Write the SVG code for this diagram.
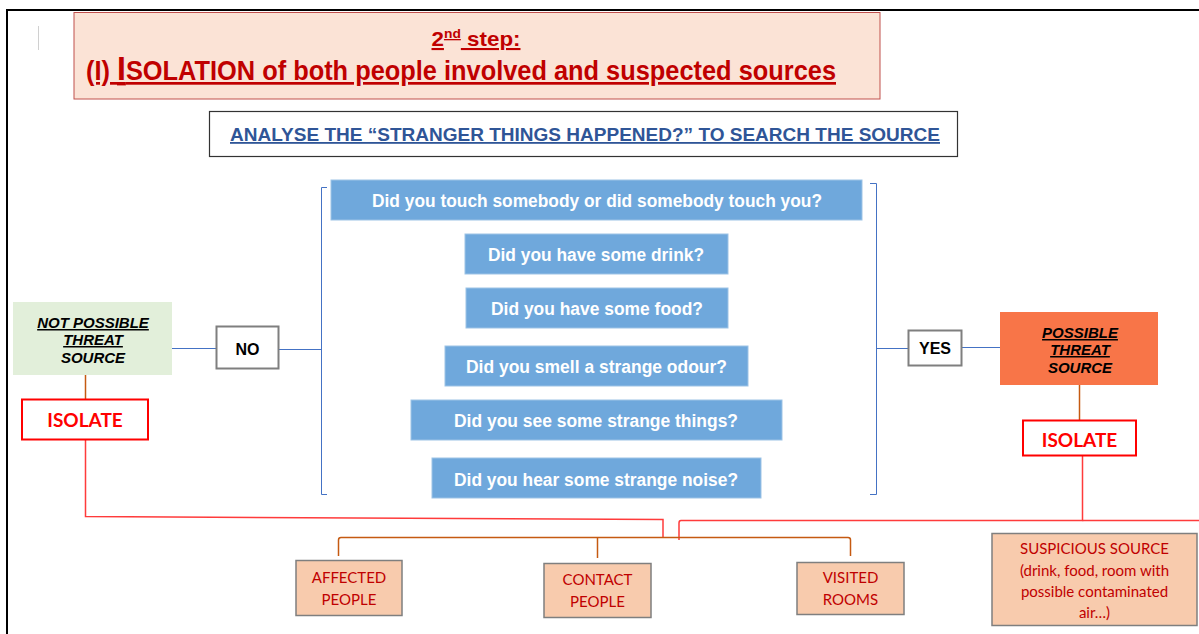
<svg xmlns="http://www.w3.org/2000/svg" width="1199" height="634" viewBox="0 0 1199 634">
  <defs>
    <style>
      .q { fill: #6FA8DC; stroke: #9DC3E6; stroke-width: 1; }
      .qt { font-family: "Liberation Sans", Arial, sans-serif; font-weight: bold; font-size: 17.5px; fill: #FFFFFF; text-anchor: middle; }
      .ans { fill: #FFFFFF; stroke: #7F7F7F; stroke-width: 2; }
      .anst { font-family: "Liberation Sans", Arial, sans-serif; font-weight: bold; font-size: 16px; fill: #000000; text-anchor: middle; }
      .src { font-family: "Liberation Sans", Arial, sans-serif; font-weight: bold; font-style: italic; font-size: 15px; fill: #000000; text-anchor: middle; }
      .iso { fill: #FFFFFF; stroke: #FF0000; stroke-width: 2; }
      .isot { font-family: Lato, "Open Sans", sans-serif; font-weight: bold; font-size: 19px; fill: #FF0000; text-anchor: middle; }
      .out { fill: #F8CBAD; stroke: #7F7F7F; stroke-width: 1.5; }
      .outt { font-family: Lato, "Open Sans", sans-serif; font-size: 15px; fill: #C00000; text-anchor: middle; }
      .blue { fill: none; stroke: #4472C4; stroke-width: 1; }
      .brown { fill: none; stroke: #C55A11; stroke-width: 1.5; }
      .red { fill: none; stroke: #FF3B3B; stroke-width: 1.5; }
    </style>
  </defs>

  <rect width="1199" height="634" fill="#FFFFFF"/>

  <!-- page frame -->
  <path d="M7 634 V10 H1199" fill="none" stroke="#000000" stroke-width="2"/>
  <line x1="38.5" y1="26" x2="38.5" y2="50" stroke="#D0D0D0" stroke-width="1"/>

  <!-- heading -->
  <g id="title">
    <rect x="74" y="12.5" width="806" height="86.5" fill="#FBE3D6" stroke="#C0504D" stroke-width="1"/>
    <text x="476" y="46" font-family="Liberation Sans, Arial, sans-serif" font-weight="bold" font-size="21" fill="#C00000" text-anchor="middle" text-decoration="underline" textLength="89" lengthAdjust="spacingAndGlyphs">2<tspan font-size="13" dy="-8">nd</tspan><tspan dy="8"> step:</tspan></text>
    <text x="86" y="80" font-family="Liberation Sans, Arial, sans-serif" font-weight="bold" font-size="27" fill="#C00000" text-decoration="underline" textLength="750" lengthAdjust="spacingAndGlyphs">(I) <tspan font-size="34">I</tspan>SOLATION of both people involved and suspected sources</text>
  </g>

  <g id="analyse">
    <rect x="209.5" y="111.5" width="748" height="45" fill="#FFFFFF" stroke="#333333" stroke-width="1.2"/>
    <text x="585" y="141" font-family="Liberation Sans, Arial, sans-serif" font-weight="bold" font-size="18" fill="#2F5597" text-anchor="middle" text-decoration="underline" textLength="710" lengthAdjust="spacingAndGlyphs">ANALYSE THE “STRANGER THINGS HAPPENED?” TO SEARCH THE SOURCE</text>
  </g>

  <!-- connectors -->
  <g id="connectors">
    <!-- brackets around the questions -->
    <path class="blue" d="M327 187.5 H321.5 V494.5 H327"/>
    <path class="blue" d="M870 183.5 H876.5 V494.5 H870"/>
    <line class="blue" x1="172" y1="348.5" x2="216" y2="348.5"/>
    <line class="blue" x1="279" y1="349.5" x2="321.5" y2="349.5"/>
    <line class="blue" x1="876.5" y1="348.5" x2="908" y2="348.5"/>
    <line class="blue" x1="962" y1="347.5" x2="1000" y2="347.5"/>
    <!-- source to isolate -->
    <line class="brown" x1="85.5" y1="375" x2="85.5" y2="399"/>
    <line class="brown" x1="1079.5" y1="385" x2="1079.5" y2="420"/>
    <!-- isolate to outcomes -->
    <path class="red" d="M85.5 440 V516.5 L663 519.5 V537"/>
    <path class="red" d="M1082.5 456 V520.5 H681 Q679 520.5 679 523 V540"/>
    <line class="red" x1="1082.5" y1="520.5" x2="1199" y2="520.5"/>
    <!-- branch to the three groups -->
    <path class="brown" d="M338.5 556 V540 Q338.5 537.5 341 537.5 H848 Q850.5 537.5 850.5 540 V556"/>
    <line class="brown" x1="597.5" y1="537.5" x2="597.5" y2="558"/>
  </g>

  <!-- questions -->
  <g id="q-touch">
    <rect class="q" x="331" y="180" width="531" height="40"/>
    <text class="qt" x="597" y="206.5" textLength="450" lengthAdjust="spacingAndGlyphs">Did you touch somebody or did somebody touch you?</text>
  </g>
  <g id="q-drink">
    <rect class="q" x="465" y="234" width="263" height="40"/>
    <text class="qt" x="596" y="260.5" textLength="216" lengthAdjust="spacingAndGlyphs">Did you have some drink?</text>
  </g>
  <g id="q-food">
    <rect class="q" x="466" y="288" width="262" height="40"/>
    <text class="qt" x="597" y="314.5" textLength="212" lengthAdjust="spacingAndGlyphs">Did you have some food?</text>
  </g>
  <g id="q-odour">
    <rect class="q" x="445" y="346" width="303" height="40"/>
    <text class="qt" x="596.5" y="372.5" textLength="261" lengthAdjust="spacingAndGlyphs">Did you smell a strange odour?</text>
  </g>
  <g id="q-see">
    <rect class="q" x="411" y="400" width="371" height="40"/>
    <text class="qt" x="596" y="426.5" textLength="284" lengthAdjust="spacingAndGlyphs">Did you see some strange things?</text>
  </g>
  <g id="q-hear">
    <rect class="q" x="432" y="458" width="329" height="40"/>
    <text class="qt" x="596" y="485.5" textLength="284" lengthAdjust="spacingAndGlyphs">Did you hear some strange noise?</text>
  </g>

  <!-- answers -->
  <g id="no">
    <rect class="ans" x="216.5" y="326.5" width="62" height="42"/>
    <text class="anst" x="247.5" y="354.5">NO</text>
  </g>
  <g id="yes">
    <rect class="ans" x="908.5" y="330.5" width="53" height="35"/>
    <text class="anst" x="935" y="354">YES</text>
  </g>

  <g id="not-possible">
    <rect x="13" y="302" width="159" height="73" fill="#E2EFDA"/>
    <text class="src" x="93" y="328" text-decoration="underline">NOT POSSIBLE</text>
    <text class="src" x="93" y="345" text-decoration="underline">THREAT</text>
    <text class="src" x="93" y="363">SOURCE</text>
  </g>
  <g id="possible">
    <rect x="1000" y="312" width="158" height="73" fill="#F87548"/>
    <text class="src" x="1080" y="338" text-decoration="underline">POSSIBLE</text>
    <text class="src" x="1080" y="355" text-decoration="underline">THREAT</text>
    <text class="src" x="1080" y="373">SOURCE</text>
  </g>

  <g id="isolate-left">
    <rect class="iso" x="22" y="399.5" width="126" height="40"/>
    <text class="isot" x="85" y="427">ISOLATE</text>
  </g>
  <g id="isolate-right">
    <rect class="iso" x="1023" y="420.5" width="113" height="35"/>
    <text class="isot" x="1079.5" y="447">ISOLATE</text>
  </g>

  <!-- outcomes -->
  <g id="affected">
    <rect class="out" x="296" y="560.5" width="106" height="55"/>
    <text class="outt" x="349" y="583">AFFECTED</text>
    <text class="outt" x="349" y="605">PEOPLE</text>
  </g>
  <g id="contact">
    <rect class="out" x="544" y="563.5" width="107" height="54"/>
    <text class="outt" x="597.5" y="585">CONTACT</text>
    <text class="outt" x="597.5" y="607">PEOPLE</text>
  </g>
  <g id="visited">
    <rect class="out" x="797" y="562.5" width="107" height="52"/>
    <text class="outt" x="850.5" y="583">VISITED</text>
    <text class="outt" x="850.5" y="605">ROOMS</text>
  </g>
  <g id="suspicious">
    <rect class="out" x="992" y="533.5" width="205" height="92"/>
    <text class="outt" x="1094.5" y="554">SUSPICIOUS SOURCE</text>
    <text class="outt" x="1094.5" y="576">(drink, food, room with</text>
    <text class="outt" x="1094.5" y="597">possible  contaminated</text>
    <text class="outt" x="1094.5" y="618">air…)</text>
  </g>
</svg>
